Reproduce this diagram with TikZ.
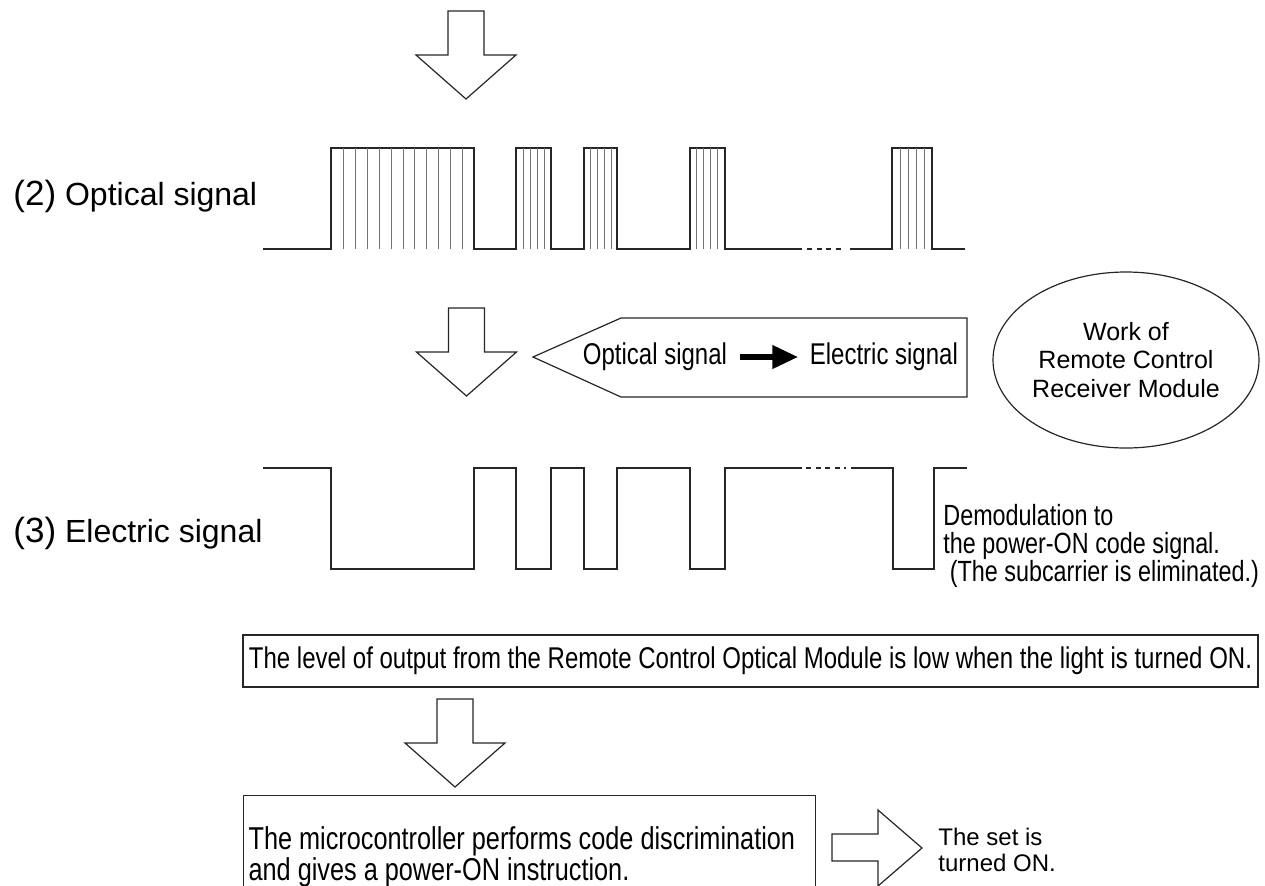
\documentclass[tikz,border=0pt]{standalone}
\usepackage{fontspec}
\setmainfont{Liberation Sans}
\newfontfamily\narrowfont[FakeStretch=0.8]{Liberation Sans}
\usetikzlibrary{positioning,
                arrows.meta,
                shapes.geometric}

\begin{document}
\begin{tikzpicture}
[x=0.5pt,y=-0.5pt,line join=miter,
signal/.style={line width=0.8pt,black!85},
carrier/.style={line width=0.5pt,black!55},
gap/.style={line width=0.8pt,black!85,dash pattern=on 2.6pt off 2.2pt},
blockarrow/.style={line width=0.6pt,black!85,fill=white},
label text/.style={inner sep=0pt,anchor=base west,font=\fontsize{16}{19}\selectfont},
narrow text/.style={inner sep=0pt,font=\narrowfont\fontsize{15}{14}\selectfont},
info box/.style={narrow text,draw=black!85,line width=0.6pt,inner sep=2.5pt},
downarrow/.pic={\draw[blockarrow] (-18,0) -- (18,0) -- (18,44) -- (50,44)
  -- (0,88) -- (-50,44) -- (-18,44) -- cycle;}]
% Frame
\path[use as bounding box] (0,0) rectangle (1265,885);
\clip (0,0) rectangle (1265,885);
% Arrows between the stages
\pic at (466,11) {downarrow};
\pic at (466.5,308) {downarrow};
\pic at (455,699) {downarrow};
% (2) Optical signal
\node[label text] (optlabel) at (13,205) {{\fontsize{17.5}{19}\selectfont(2)} Optical signal};
\draw[signal] (263,249) -- (331,249) -- (331,148) -- (474,148) -- (474,249)
  -- (516,249) -- (516,148) -- (551,148) -- (551,249) -- (584,249) -- (584,148)
  -- (617,148) -- (617,249) -- (690,249) -- (690,148) -- (725,148) -- (725,249)
  -- (802,249);
\draw[gap] (807,249) -- (845,249);
\draw[signal] (850,249) -- (892,249) -- (892,148) -- (932,148) -- (932,249) -- (965,249);
\foreach \x in {343,355,367,379,391,403,414,426,438,450,462,
                523,530,537,544,590,597,604,611,
                696,703,710,717,900,908,916,924}
  \draw[carrier] (\x,148) -- (\x,249);
% Optical to electric
\draw[blockarrow] (533,357) -- (621,318) -- (967,318) -- (967,397) -- (621,397) -- cycle;
\node[narrow text] (osig) at (655,357) {Optical signal};
\node[narrow text,right=41pt of osig] (esig) {Electric signal};
\draw[line width=3.4pt,-{Triangle[length=13pt,width=11pt]}]
  ([xshift=6.5pt]osig.east) -- ([xshift=-5.5pt]esig.west);
\node[ellipse,draw=black!85,line width=0.6pt,minimum width=133pt,minimum height=88pt,
  inner sep=0pt,align=center,font=\fontsize{12.5}{14.25}\selectfont] (work) at (1126,360)
  {Work of\\Remote Control\\Receiver Module};
% (3) Electric signal
\node[label text] (elelabel) at (13,542) {{\fontsize{17.5}{19}\selectfont(3)} Electric signal};
\draw[signal] (263,468) -- (331,468) -- (331,569) -- (474,569) -- (474,468)
  -- (516,468) -- (516,569) -- (551,569) -- (551,468) -- (584,468) -- (584,569)
  -- (617,569) -- (617,468) -- (690,468) -- (690,569) -- (725,569) -- (725,468)
  -- (802,468);
\draw[gap] (806,468) -- (846,468);
\draw[signal] (851,468) -- (893,468) -- (893,569) -- (934,569) -- (934,468) -- (967,468);
\node[narrow text,align=left,anchor=west,font=\narrowfont\fontsize{14.6}{14}\selectfont]
  (demod) at (943,546)
  {Demodulation to\\the power-ON code signal.\\\ (The subcarrier is eliminated.)};
% Output stage
\node[info box,minimum width=507.5pt,minimum height=26pt] (level) at (750.5,661)
  {The level of output from the Remote Control Optical Module is low when the light is turned ON.};
\node[info box,anchor=north west,text width=281pt,minimum height=61pt,align=flush left,
  font=\narrowfont\fontsize{15.8}{14}\selectfont] (micro) at (243,795)
  {The microcontroller performs code discrimination\\and gives a power-ON instruction.};
\draw[blockarrow] (832,834) -- (878,834) -- (878,810) -- (922,848) -- (878,886)
  -- (878,861) -- (832,861) -- cycle;
\node[anchor=west,align=left,inner sep=0pt,font=\fontsize{12}{13}\selectfont] (seton)
  at (938,850) {The set is\\turned ON.};
\end{tikzpicture}
\end{document}
